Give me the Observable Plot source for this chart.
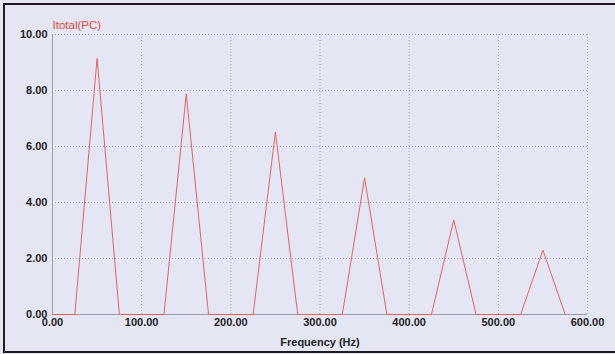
<!DOCTYPE html>
<html>
<head>
<meta charset="utf-8">
<script src="https://cdn.jsdelivr.net/npm/d3@7"></script>
<script src="https://cdn.jsdelivr.net/npm/@observablehq/plot@0.6"></script>
<style>
  html, body { margin: 0; padding: 0; background: #e4e6f3; overflow: hidden; }
  #chart { width: 615px; height: 354px; position: relative; overflow: hidden; }
  #frame { position: absolute; left: 3px; top: 3px; width: 630px; height: 350px; box-sizing: border-box; border: 2px solid #1e1e22; pointer-events: none; }
</style>
</head>
<body>
<div id="chart"><div id="frame"></div></div>
<script>
// Data
const frequency = [0, 25, 50, 75, 100, 125, 150, 175, 200, 225, 250, 275, 300, 325, 350, 375, 400, 425, 450, 475, 500, 525, 550, 575];
const current   = [0, 0, 9.15, 0, 0, 0, 7.88, 0, 0, 0, 6.52, 0, 0, 0, 4.88, 0, 0, 0, 3.38, 0, 0, 0, 2.3, 0];
const yTicks = [0, 2, 4, 6, 8, 10];
const xTicks = [0, 100, 200, 300, 400, 500, 600];
const seriesTitle = "Itotal(PC)";
const xLabel = "Frequency (Hz)";

const data = frequency.map((f, i) => ({f, v: current[i]}));

const chart = Plot.plot({
  width: 615,
  height: 354,
  marginLeft: 52,
  marginRight: 28,
  marginTop: 34,
  marginBottom: 40,
  style: {background: "transparent", fontFamily: "Liberation Sans, Arial, sans-serif", fontSize: "11px", color: "#222"},
  x: {domain: [0, 600], ticks: xTicks, tickFormat: d3.format(".2f"), tickSize: 0, label: null},
  y: {domain: [0, 10], ticks: yTicks, tickFormat: d3.format(".2f"), tickSize: 0, label: null},
  marks: [
    Plot.gridX(xTicks, {stroke: "#8c8ca2", strokeOpacity: 0.75, strokeDasharray: "1,2"}),
    Plot.gridY(yTicks, {stroke: "#8c8ca2", strokeOpacity: 0.75, strokeDasharray: "1,2"}),
    Plot.ruleY([0], {stroke: "#9a9aaa", strokeWidth: 1}),
    Plot.ruleX([0], {stroke: "#9a9aaa", strokeWidth: 1}),
    Plot.axisY({ticks: yTicks, tickFormat: d3.format(".2f"), tickSize: 0, tickPadding: 5, fontWeight: "bold", fontSize: 11, label: null}),
    Plot.axisX({ticks: xTicks, tickFormat: d3.format(".2f"), tickSize: 0, tickPadding: 4, fontWeight: "bold", fontSize: 11, label: null}),
    Plot.line(data, {x: "f", y: "v", stroke: "#e8625c", strokeWidth: 1}),
    Plot.text([seriesTitle], {frameAnchor: "top-left", dy: -14, dx: 0, textAnchor: "start", fill: "#e04a3c", fontSize: 11.5}),
    Plot.text([xLabel], {frameAnchor: "bottom", dy: 31, fill: "#222", fontSize: 11, fontWeight: "bold"})
  ]
});
document.getElementById("chart").prepend(chart);
</script>
</body>
</html>
